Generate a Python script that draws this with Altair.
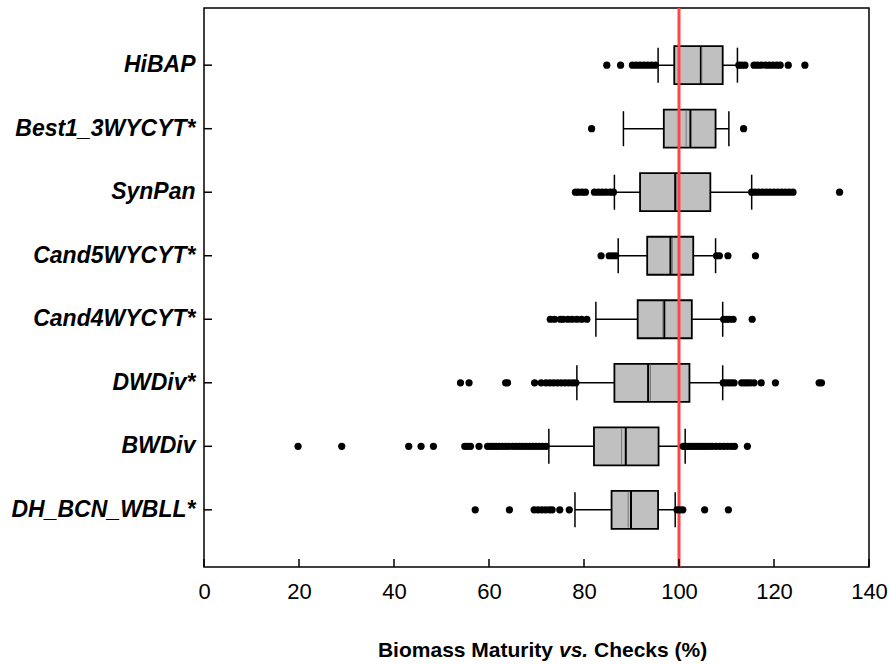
import altair as alt
import pandas as pd

# Populations, top to bottom
groups = ["HiBAP", "Best1_3WYCYT*", "SynPan", "Cand5WYCYT*", "Cand4WYCYT*",
          "DWDiv*", "BWDiv", "DH_BCN_WBLL*"]

# Box statistics (% of checks)
whisk_low = [95.6, 88.3, 86.4, 87.2, 82.5, 78.5, 72.6, 78.1]
q1 = [99.0, 96.8, 91.8, 93.3, 91.3, 86.4, 82.1, 85.8]
median = [104.6, 102.4, 99.2, 98.2, 96.9, 93.5, 88.8, 89.9]
q3 = [109.2, 107.7, 106.6, 103.0, 102.7, 102.2, 95.7, 95.6]
whisk_high = [112.3, 110.5, 115.3, 107.7, 109.2, 109.2, 101.3, 99.2]
mean = [104.8, 101.5, 99.5, 98.6, 96.6, 94.0, 87.9, 89.3]

# Points beyond the whiskers
outliers = {
    "HiBAP": [84.8, 87.7, 90.2, 91.0, 91.8, 92.6, 93.4, 94.2, 95.0,
              112.6, 113.2, 113.9, 115.8, 116.5, 117.3, 118.2, 119.0,
              119.8, 120.6, 121.3, 123.0, 126.5],
    "Best1_3WYCYT*": [81.6, 113.6],
    "SynPan": [78.2, 78.8, 79.6, 80.3, 82.2, 83.0, 83.8, 84.6, 85.5, 86.2,
               115.3, 116.0, 116.8, 117.6, 118.4, 119.2, 120.0, 120.8,
               121.6, 122.4, 123.2, 124.0, 133.8],
    "Cand5WYCYT*": [83.6, 85.3, 86.0, 86.7, 107.9, 108.5, 110.3, 116.1],
    "Cand4WYCYT*": [72.9, 73.8, 75.0, 75.6, 76.6, 77.5, 78.5, 79.5, 80.6,
                    109.4, 110.0, 110.6, 111.4, 115.4],
    "DWDiv*": [54.0, 55.8, 63.5, 63.9, 69.6, 71.0, 72.0, 72.8, 73.6, 74.4,
               75.2, 76.0, 76.8, 77.6, 78.3,
               109.3, 109.8, 110.4, 111.0, 111.6, 113.2, 113.8, 114.4,
               115.0, 115.8, 117.3, 120.3, 129.5, 130.0],
    "BWDiv": [19.8, 29.0, 43.1, 45.7, 48.3, 54.9, 55.5, 56.1, 57.9, 59.7,
              60.3, 60.9, 61.5, 62.1, 62.8, 63.5, 64.2, 65.0, 65.7, 66.4,
              67.1, 67.8, 68.5, 69.2, 69.9, 70.6, 71.3, 72.0,
              100.9, 101.5, 102.1, 102.7, 103.3, 103.9, 104.5, 105.1,
              105.7, 106.3, 107.0, 107.8, 108.6, 109.4, 110.2, 111.0,
              111.7, 114.4],
    "DH_BCN_WBLL*": [57.1, 64.3, 69.5, 70.3, 71.1, 71.9, 72.7, 73.3, 74.9,
                     76.9, 99.6, 100.2, 100.8, 105.4, 110.4],
}

reference_level = [100]
x_ticks = [0, 20, 40, 60, 80, 100, 120, 140]
title_parts = ["Biomass Maturity", "vs.", "Checks (%)"]

W, H = 665, 559
FONT = "Liberation Sans"

stats = pd.DataFrame({
    "group": groups, "lo": whisk_low, "q1": q1, "med": median,
    "q3": q3, "hi": whisk_high, "mean": mean,
})
pts = pd.DataFrame([(g, v) for g, vals in outliers.items() for v in vals],
                   columns=["group", "value"])

xscale = alt.Scale(domain=[0, 140], nice=False, zero=False)
yscale = alt.Scale(domain=groups, paddingOuter=0.4, paddingInner=0)

x_axis = alt.Axis(values=x_ticks, labelFont=FONT, labelFontSize=22,
                  labelColor="black", labelPadding=14, labelFlush=False,
                  ticks=False, domain=False, grid=False, title=None)
y_axis = alt.Axis(labelFont=FONT, labelFontSize=23, labelFontStyle="italic",
                  labelFontWeight="bold", labelColor="black", labelPadding=9,
                  labelLimit=0, ticks=False, domain=False, grid=False,
                  title=None)

base = alt.Chart(stats)
Y = alt.Y("group:N", scale=yscale, axis=y_axis, sort=groups)

whiskers = base.mark_rule(color="black", strokeWidth=1.5).encode(
    x=alt.X("lo:Q", scale=xscale, axis=x_axis), x2="hi:Q", y=Y)

caps_lo = base.mark_tick(color="black", thickness=1.5, size=35,
                         opacity=1).encode(x="lo:Q", y=Y)
caps_hi = base.mark_tick(color="black", thickness=1.5, size=35,
                         opacity=1).encode(x="hi:Q", y=Y)

boxes = base.mark_bar(color="#c0c0c0", stroke="black", strokeWidth=1.8,
                      size=38).encode(x="q1:Q", x2="q3:Q", y=Y)

medians = base.mark_tick(color="black", thickness=2, size=38,
                         opacity=1).encode(x="med:Q", y=Y)

means = base.mark_tick(color="#777777", thickness=1, size=36, opacity=1,
                       strokeDash=[1, 9]).encode(x="mean:Q", y=Y)

ref = alt.Chart(pd.DataFrame({"v": reference_level})).mark_rule(
    color="#ff4646", strokeWidth=3).encode(x="v:Q")

dots = alt.Chart(pts).mark_circle(color="black", size=52, opacity=1).encode(
    x="value:Q", y=Y)

# inward tick marks on both axes
y_ticks = base.mark_rule(color="black", strokeWidth=1.5).encode(
    y=Y, x=alt.value(0), x2=alt.value(8))
x_tick_marks = alt.Chart(pd.DataFrame({"v": x_ticks})).mark_rule(
    color="black", strokeWidth=1.5).encode(
    x="v:Q", y=alt.value(H), y2=alt.value(H - 8))

# axis title with an italic "vs."
title_df = pd.DataFrame({"t": title_parts})
t1 = alt.Chart(title_df.iloc[[0]]).mark_text(
    font=FONT, fontSize=21, fontWeight="bold", align="right",
    baseline="middle", color="black").encode(
    text="t:N", x=alt.value(349), y=alt.value(643))
t2 = alt.Chart(title_df.iloc[[1]]).mark_text(
    font=FONT, fontSize=21, fontWeight="bold", fontStyle="italic",
    align="left", baseline="middle", color="black").encode(
    text="t:N", x=alt.value(355), y=alt.value(643))
t3 = alt.Chart(title_df.iloc[[2]]).mark_text(
    font=FONT, fontSize=21, fontWeight="bold", align="left",
    baseline="middle", color="black").encode(
    text="t:N", x=alt.value(390), y=alt.value(643))

chart = alt.layer(
    whiskers, caps_lo, caps_hi, boxes, medians, means, ref, dots,
    y_ticks, x_tick_marks, t1, t2, t3,
).properties(
    width=W, height=H,
    background="white",
    autosize=alt.AutoSizeParams(type="none"),
    padding={"left": 204, "top": 8, "right": 22, "bottom": 97},
).configure_view(
    stroke="black", strokeWidth=1.5,
)

chart.save("out.html", embed_options={"renderer": "svg", "actions": False})
